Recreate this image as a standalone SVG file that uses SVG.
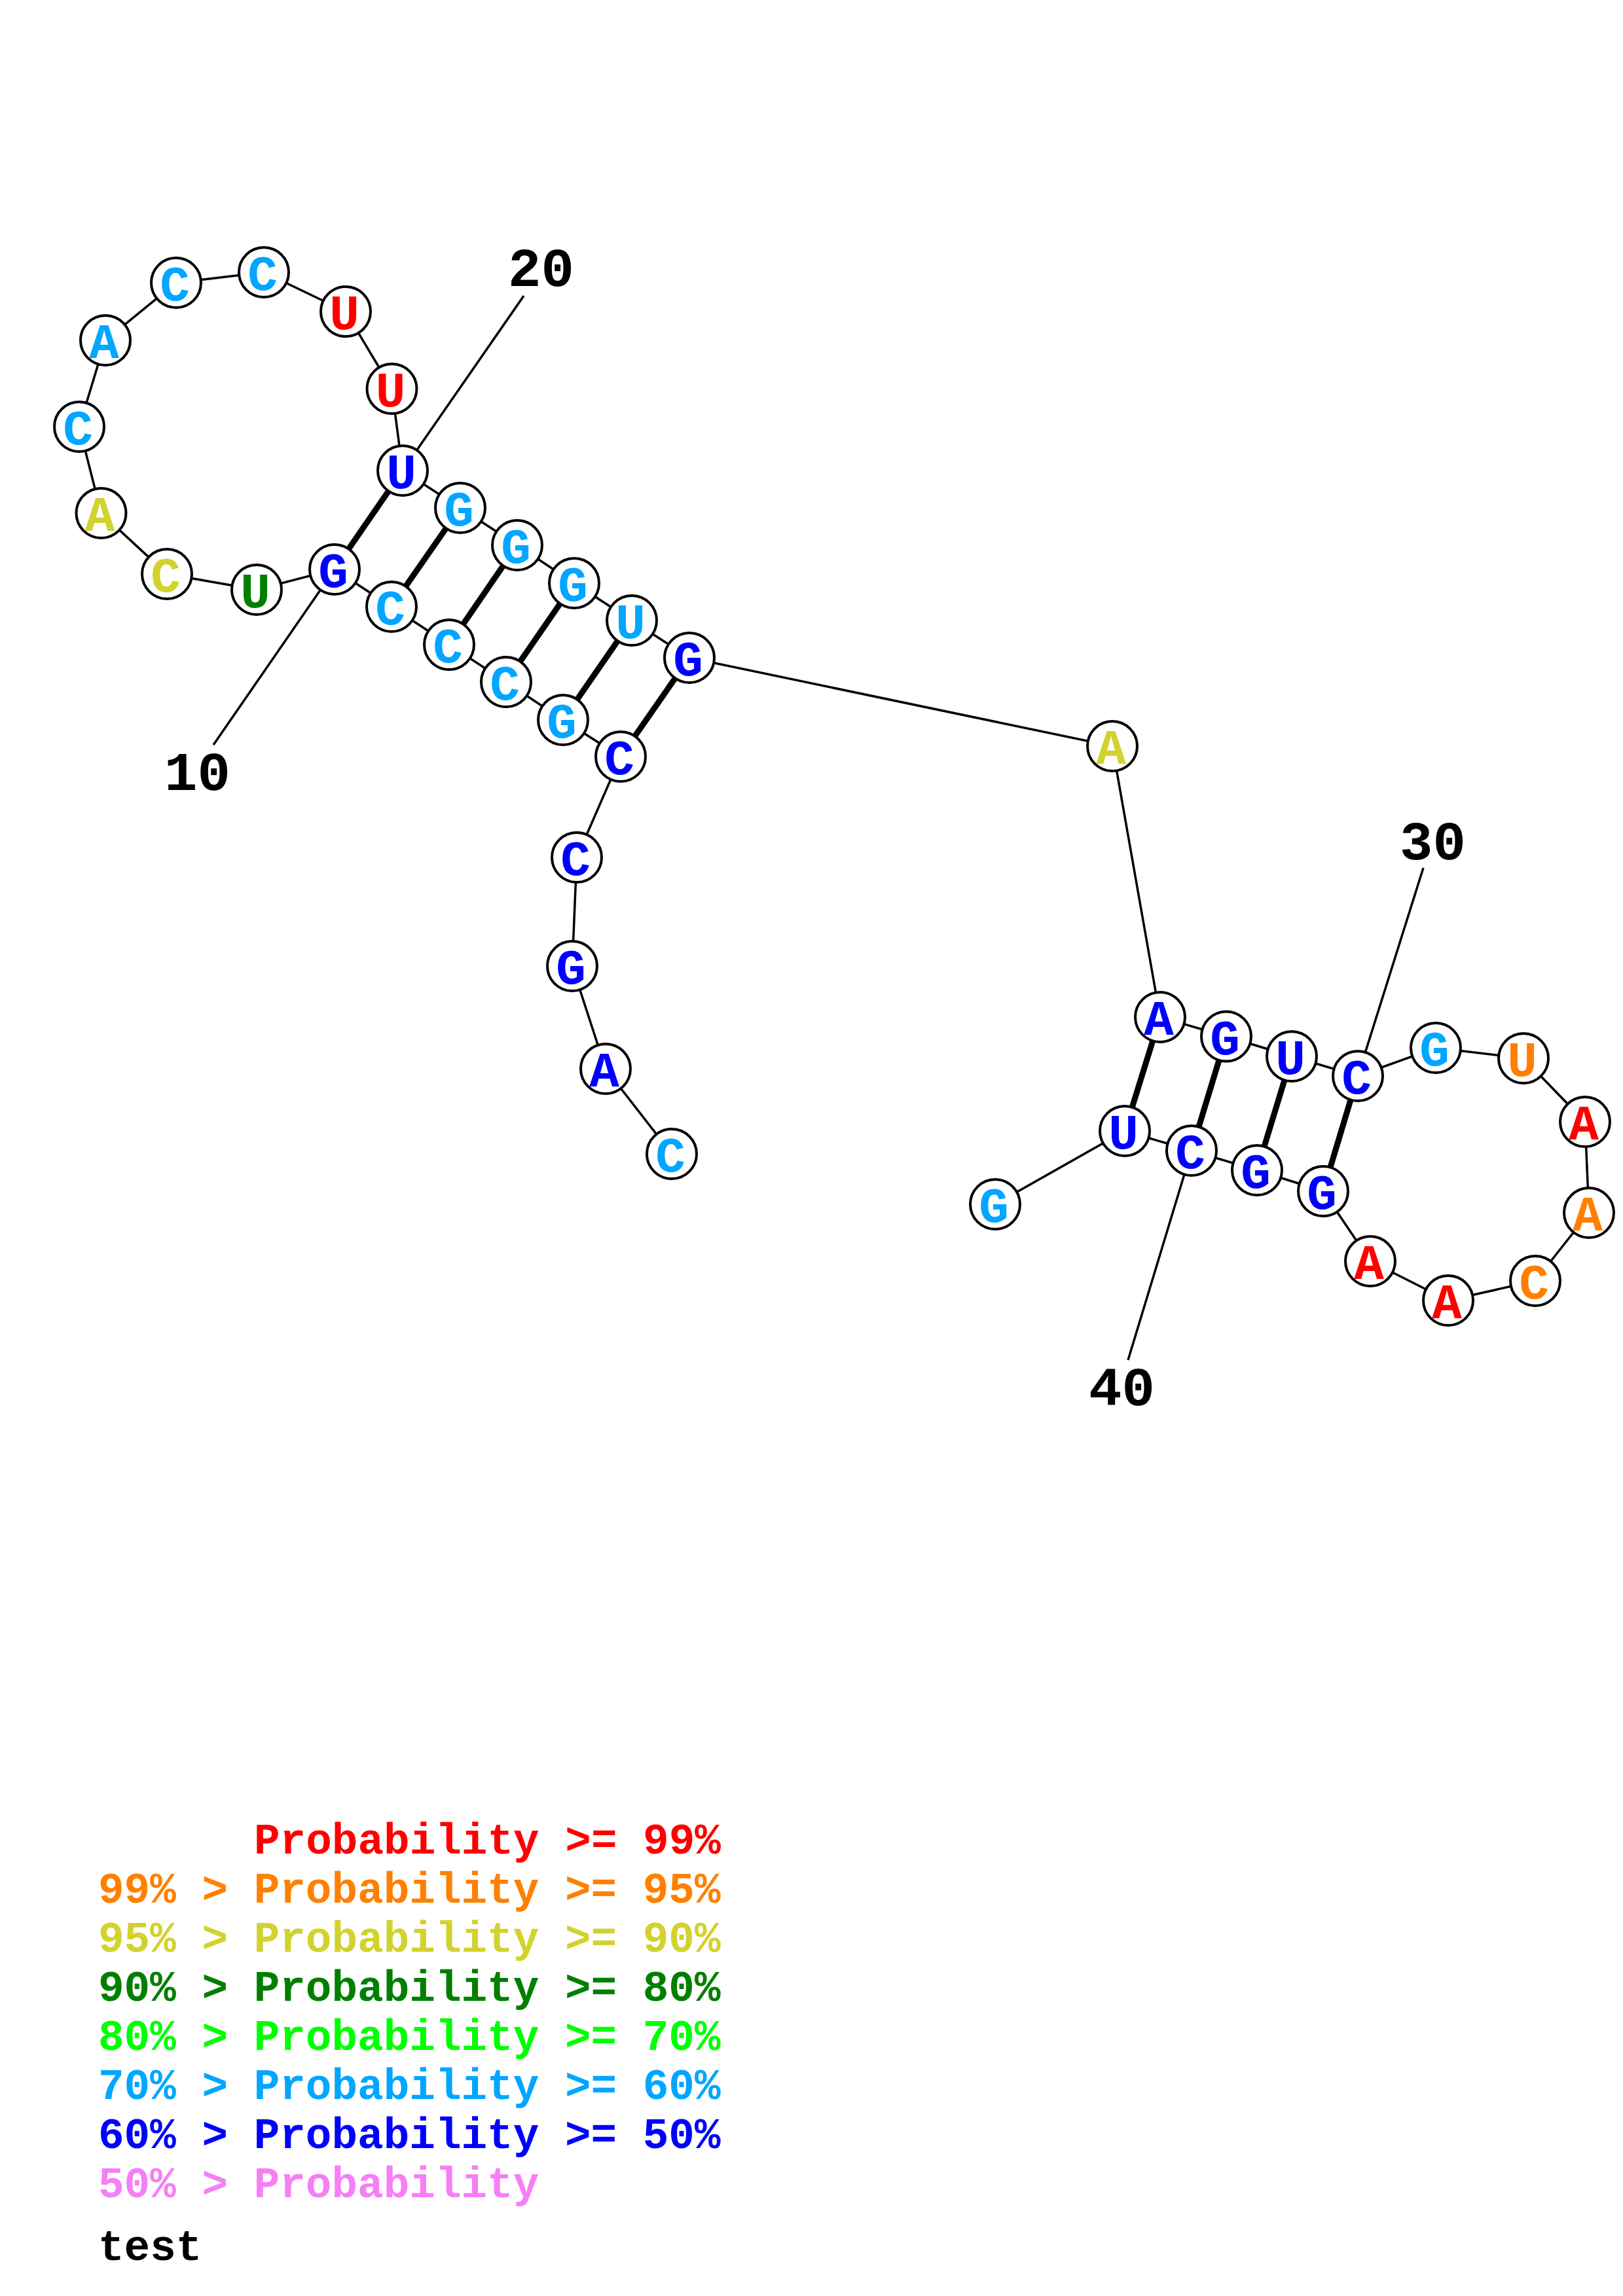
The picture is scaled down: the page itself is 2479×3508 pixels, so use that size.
<svg xmlns="http://www.w3.org/2000/svg" width="2479" height="3508" viewBox="0 0 2479 3508">
<style>
.bb{stroke:#000;stroke-width:3.5;fill:none}
.bp{stroke:#000;stroke-width:9;fill:none}
.tk{stroke:#000;stroke-width:3.5;fill:none}
.nd circle{fill:#fff;stroke:#000;stroke-width:4}
.nd text{font-family:"Liberation Mono","Courier New",monospace;font-weight:bold;font-size:76px;text-anchor:middle}
.num{font-family:"Liberation Mono","Courier New",monospace;font-weight:bold;font-size:84px;fill:#000}
.lg text{font-family:"Liberation Mono","Courier New",monospace;font-weight:bold;font-size:66px;white-space:pre}
.r{fill:#ff0000}.o{fill:#ff8000}.y{fill:#d2d22e}.dg{fill:#007f00}.bg{fill:#00ff00}.lb{fill:#00a6ff}.b{fill:#0000ff}.p{fill:#f57ff5}
</style>
<rect width="2479" height="3508" fill="#fff"/>
<g id="connectors">
<polyline class="bb" points="1026,1763 925,1633 874,1476 881,1310 948,1156 860,1100 773,1042 686,985 598,927 511,870 392,901 255,877 154.5,784 121,652 161,520 269,432 403,416 528,476 598.5,594 615,719 703,776 790,833 877,891 965,948 1053,1005 1699,1140 1772,1554 1873,1583.5 1973,1614 2074,1644 2193,1601 2327,1617 2421,1714 2427,1853 2345,1957 2212,1987 2093,1927 2021,1820 1920,1788 1820,1758 1718,1728 1520,1840"/>
<line class="bp" x1="511" y1="870" x2="615" y2="719"/>
<line class="bp" x1="598" y1="927" x2="703" y2="776"/>
<line class="bp" x1="686" y1="985" x2="790" y2="833"/>
<line class="bp" x1="773" y1="1042" x2="877" y2="891"/>
<line class="bp" x1="860" y1="1100" x2="965" y2="948"/>
<line class="bp" x1="948" y1="1156" x2="1053" y2="1005"/>
<line class="bp" x1="1772" y1="1554" x2="1718" y2="1728"/>
<line class="bp" x1="1873" y1="1583.5" x2="1820" y2="1758"/>
<line class="bp" x1="1973" y1="1614" x2="1920" y2="1788"/>
<line class="bp" x1="2074" y1="1644" x2="2021" y2="1820"/>
<line class="tk" x1="511" y1="870" x2="326" y2="1138"/>
<line class="tk" x1="615" y1="719" x2="800" y2="452"/>
<line class="tk" x1="2074" y1="1644" x2="2174" y2="1326"/>
<line class="tk" x1="1820" y1="1758" x2="1723" y2="2078"/>
</g>
<g id="nodes" class="nd">
<g id="n1"><circle cx="1026" cy="1763" r="38"/><text x="1024" y="1790" class="lb">C</text></g>
<g id="n2"><circle cx="925" cy="1633" r="38"/><text x="923" y="1660" class="b">A</text></g>
<g id="n3"><circle cx="874" cy="1476" r="38"/><text x="872" y="1503" class="b">G</text></g>
<g id="n4"><circle cx="881" cy="1310" r="38"/><text x="879" y="1337" class="b">C</text></g>
<g id="n5"><circle cx="948" cy="1156" r="38"/><text x="946" y="1183" class="b">C</text></g>
<g id="n6"><circle cx="860" cy="1100" r="38"/><text x="858" y="1127" class="lb">G</text></g>
<g id="n7"><circle cx="773" cy="1042" r="38"/><text x="771" y="1069" class="lb">C</text></g>
<g id="n8"><circle cx="686" cy="985" r="38"/><text x="684" y="1012" class="lb">C</text></g>
<g id="n9"><circle cx="598" cy="927" r="38"/><text x="596" y="954" class="lb">C</text></g>
<g id="n10"><circle cx="511" cy="870" r="38"/><text x="509" y="897" class="b">G</text></g>
<g id="n11"><circle cx="392" cy="901" r="38"/><text x="390" y="928" class="dg">U</text></g>
<g id="n12"><circle cx="255" cy="877" r="38"/><text x="253" y="904" class="y">C</text></g>
<g id="n13"><circle cx="154.5" cy="784" r="38"/><text x="152.5" y="811" class="y">A</text></g>
<g id="n14"><circle cx="121" cy="652" r="38"/><text x="119" y="679" class="lb">C</text></g>
<g id="n15"><circle cx="161" cy="520" r="38"/><text x="159" y="547" class="lb">A</text></g>
<g id="n16"><circle cx="269" cy="432" r="38"/><text x="267" y="459" class="lb">C</text></g>
<g id="n17"><circle cx="403" cy="416" r="38"/><text x="401" y="443" class="lb">C</text></g>
<g id="n18"><circle cx="528" cy="476" r="38"/><text x="526" y="503" class="r">U</text></g>
<g id="n19"><circle cx="598.5" cy="594" r="38"/><text x="596.5" y="621" class="r">U</text></g>
<g id="n20"><circle cx="615" cy="719" r="38"/><text x="613" y="746" class="b">U</text></g>
<g id="n21"><circle cx="703" cy="776" r="38"/><text x="701" y="803" class="lb">G</text></g>
<g id="n22"><circle cx="790" cy="833" r="38"/><text x="788" y="860" class="lb">G</text></g>
<g id="n23"><circle cx="877" cy="891" r="38"/><text x="875" y="918" class="lb">G</text></g>
<g id="n24"><circle cx="965" cy="948" r="38"/><text x="963" y="975" class="lb">U</text></g>
<g id="n25"><circle cx="1053" cy="1005" r="38"/><text x="1051" y="1032" class="b">G</text></g>
<g id="n26"><circle cx="1699" cy="1140" r="38"/><text x="1697" y="1167" class="y">A</text></g>
<g id="n27"><circle cx="1772" cy="1554" r="38"/><text x="1770" y="1581" class="b">A</text></g>
<g id="n28"><circle cx="1873" cy="1583.5" r="38"/><text x="1871" y="1610.5" class="b">G</text></g>
<g id="n29"><circle cx="1973" cy="1614" r="38"/><text x="1971" y="1641" class="b">U</text></g>
<g id="n30"><circle cx="2074" cy="1644" r="38"/><text x="2072" y="1671" class="b">C</text></g>
<g id="n31"><circle cx="2193" cy="1601" r="38"/><text x="2191" y="1628" class="lb">G</text></g>
<g id="n32"><circle cx="2327" cy="1617" r="38"/><text x="2325" y="1644" class="o">U</text></g>
<g id="n33"><circle cx="2421" cy="1714" r="38"/><text x="2419" y="1741" class="r">A</text></g>
<g id="n34"><circle cx="2427" cy="1853" r="38"/><text x="2425" y="1880" class="o">A</text></g>
<g id="n35"><circle cx="2345" cy="1957" r="38"/><text x="2343" y="1984" class="o">C</text></g>
<g id="n36"><circle cx="2212" cy="1987" r="38"/><text x="2210" y="2014" class="r">A</text></g>
<g id="n37"><circle cx="2093" cy="1927" r="38"/><text x="2091" y="1954" class="r">A</text></g>
<g id="n38"><circle cx="2021" cy="1820" r="38"/><text x="2019" y="1847" class="b">G</text></g>
<g id="n39"><circle cx="1920" cy="1788" r="38"/><text x="1918" y="1815" class="b">G</text></g>
<g id="n40"><circle cx="1820" cy="1758" r="38"/><text x="1818" y="1785" class="b">C</text></g>
<g id="n41"><circle cx="1718" cy="1728" r="38"/><text x="1716" y="1755" class="b">U</text></g>
<g id="n42"><circle cx="1520" cy="1840" r="38"/><text x="1518" y="1867" class="lb">G</text></g>
</g>
<g id="numbers">
<text class="num" x="776" y="437">20</text>
<text class="num" x="251" y="1207">10</text>
<text class="num" x="2138" y="1313">30</text>
<text class="num" x="1663" y="2147">40</text>
</g>
<g id="legend" class="lg">
<text x="388" y="2832" class="r">Probability &gt;= 99%</text>
<text x="150" y="2907" class="o" xml:space="preserve">99% &gt; Probability &gt;= 95%</text>
<text x="150" y="2982" class="y" xml:space="preserve">95% &gt; Probability &gt;= 90%</text>
<text x="150" y="3057" class="dg" xml:space="preserve">90% &gt; Probability &gt;= 80%</text>
<text x="150" y="3132" class="bg" xml:space="preserve">80% &gt; Probability &gt;= 70%</text>
<text x="150" y="3207" class="lb" xml:space="preserve">70% &gt; Probability &gt;= 60%</text>
<text x="150" y="3282" class="b" xml:space="preserve">60% &gt; Probability &gt;= 50%</text>
<text x="150" y="3357" class="p" xml:space="preserve">50% &gt; Probability</text>
<text x="150" y="3453" fill="#000">test</text>
</g>
</svg>
